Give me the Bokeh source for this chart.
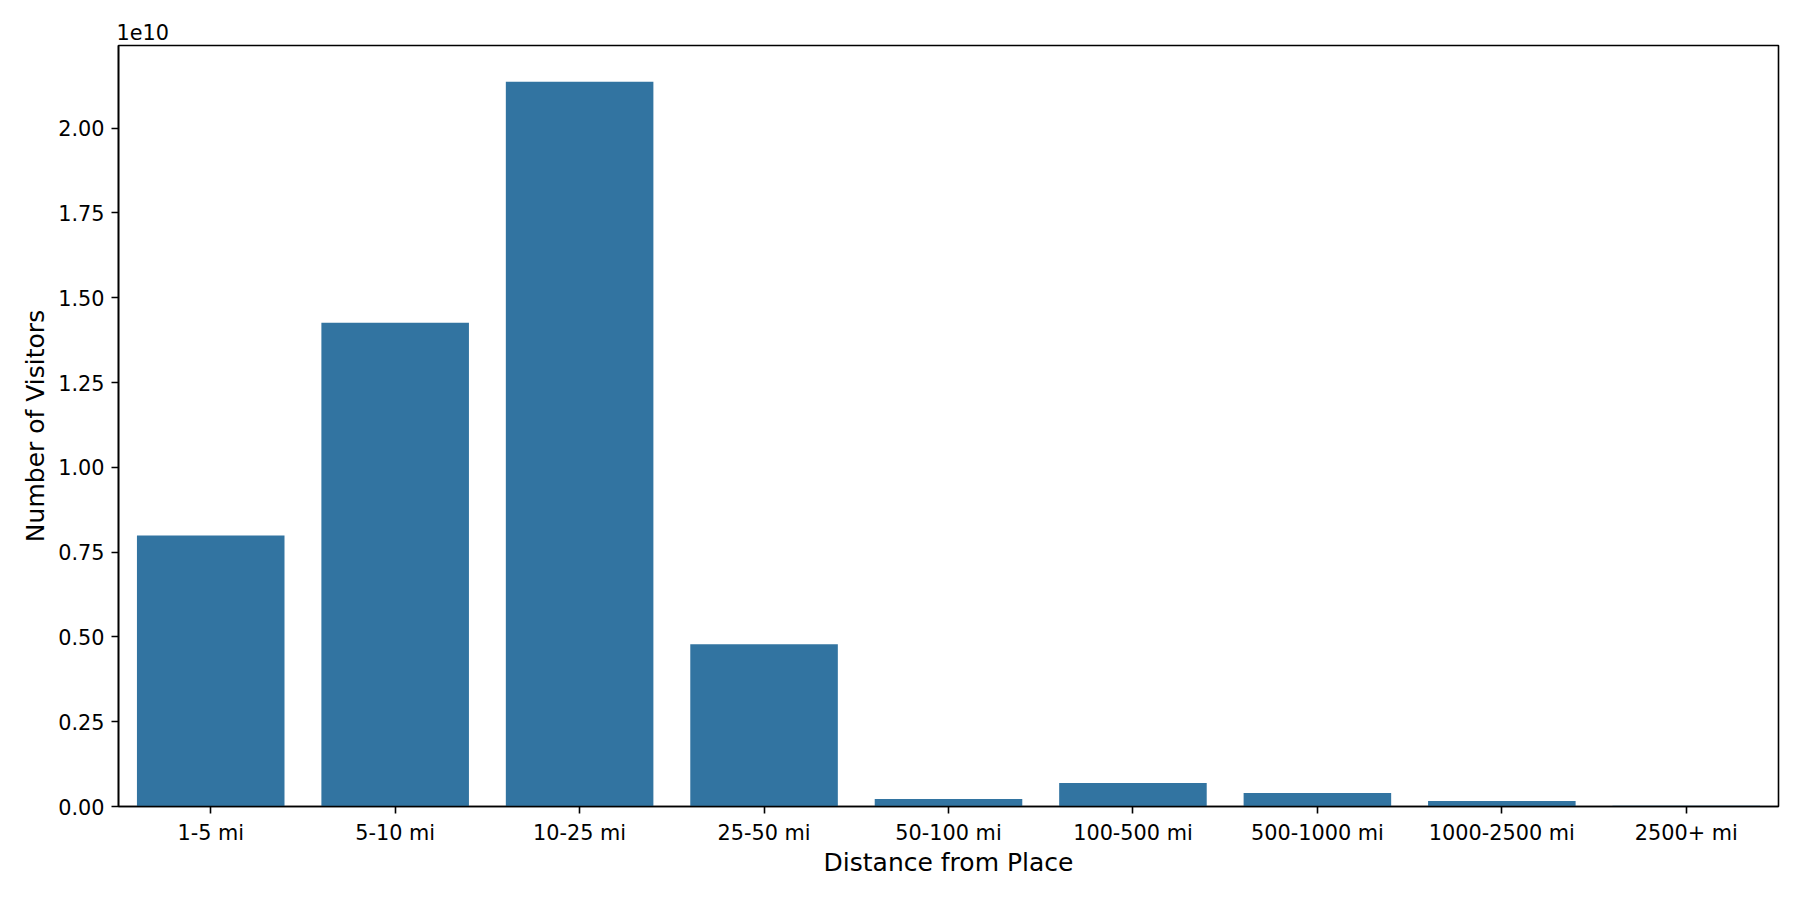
from bokeh.plotting import figure
from bokeh.models import ColumnDataSource, FactorRange, Range1d, FixedTicker, NumeralTickFormatter
from bokeh.embed import file_html
from bokeh.resources import INLINE

categories = ["1-5 mi", "5-10 mi", "10-25 mi", "25-50 mi", "50-100 mi",
              "100-500 mi", "500-1000 mi", "1000-2500 mi", "2500+ mi"]
visitors = [7.99e9, 1.426e10, 2.1368e10, 4.78e9, 2.2e8, 6.9e8, 4.0e8, 1.6e8, 2.0e7]
scale = 1e10
y_ticks = [0.0, 0.25, 0.5, 0.75, 1.0, 1.25, 1.5, 1.75, 2.0]

scaled = [v / scale for v in visitors]
y_top = max(scaled) * 1.05

src = ColumnDataSource(dict(cat=categories, val=scaled))

FONT = "DejaVu Sans"
p = figure(x_range=FactorRange(*categories, range_padding=0),
           y_range=Range1d(0, y_top),
           width=1784, height=884, output_backend="svg", toolbar_location=None,
           min_border_left=118, min_border_right=6, min_border_top=45, min_border_bottom=78,
           title="1e10")

p.title.align = "left"
p.title.text_font = FONT
p.title.text_font_size = "20.8px"
p.title.text_font_style = "normal"
p.title.text_color = "black"
p.title.standoff = 12
p.title.offset = -2

p.vbar(x="cat", top="val", width=0.8, source=src, fill_color="#3274a1", line_color=None)

p.xgrid.visible = False
p.ygrid.visible = False
p.outline_line_color = "black"
p.outline_line_width = 1.6
p.outline_line_alpha = 1.0

for ax in (p.xaxis[0], p.yaxis[0]):
    ax.axis_line_color = "black"
    ax.axis_line_width = 1.6
    ax.major_tick_line_color = "black"
    ax.major_tick_line_width = 1.6
    ax.major_tick_out = 7
    ax.major_tick_in = 0
    ax.minor_tick_line_color = None
    ax.major_label_standoff = 7
    ax.major_label_text_font = FONT
    ax.major_label_text_font_size = "20.8px"
    ax.major_label_text_color = "black"
    ax.axis_label_text_font = FONT
    ax.axis_label_text_font_size = "25px"
    ax.axis_label_text_font_style = "normal"
    ax.axis_label_text_color = "black"

p.xaxis.axis_label = "Distance from Place"
p.xaxis.axis_label_standoff = 0
p.yaxis.axis_label = "Number of Visitors"
p.yaxis.axis_label_standoff = 5
p.yaxis.ticker = FixedTicker(ticks=y_ticks)
p.yaxis.formatter = NumeralTickFormatter(format="0.00")

open("out.html", "w").write(file_html(p, INLINE))
